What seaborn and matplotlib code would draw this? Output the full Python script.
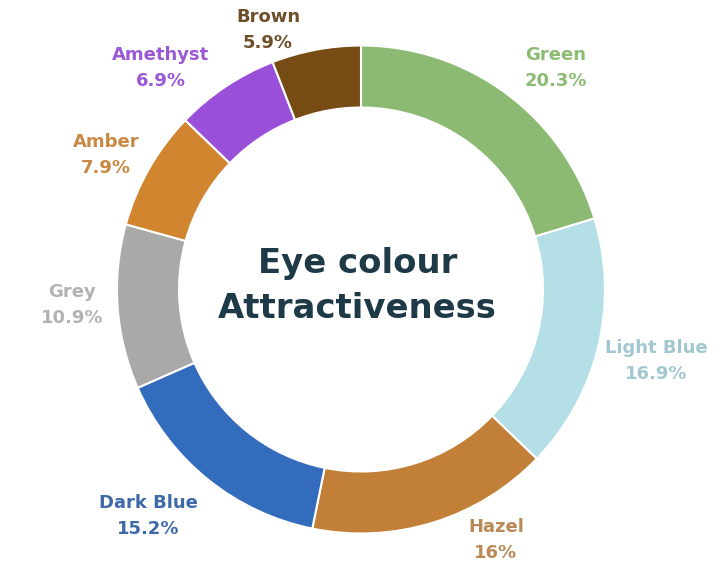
import matplotlib.pyplot as plt
import seaborn as sns

# eye colours, clockwise from 12 o'clock
colours = ["Green", "Light Blue", "Hazel", "Dark Blue", "Grey", "Amber", "Amethyst", "Brown"]
shares = [20.3, 16.9, 16.0, 15.2, 10.9, 7.9, 6.9, 5.9]

wedge_colors = ["#8dba72", "#b4dfe6", "#c27f37", "#336bbd", "#a9a9a9", "#d2852f", "#9a4fd9", "#774b14"]
label_colors = ["#8cbb74", "#a3c7d1", "#b98a57", "#3d69a6", "#b2b2b2", "#c98843", "#9a58d6", "#6d5028"]

# label centres in pixels (origin top-left)
label_xy = [(556, 68), (656, 361), (496, 540), (148, 516), (72, 305), (106, 155), (161, 68), (268, 30)]

sns.set_theme(style="white")
plt.rcParams["font.family"] = ["DejaVu Sans"]

W, H = 720, 574
fig = plt.figure(figsize=(7.2, 5.74), dpi=100)
ax = fig.add_axes([0, 0, 1, 1])

# y axis runs downwards, so start at -90 and go "counterclockwise" to get clockwise from the top
ax.pie(shares, colors=wedge_colors, center=(361, 289.5), radius=244,
       startangle=-90, counterclock=True,
       wedgeprops=dict(width=62, edgecolor="white", linewidth=1.5))

ax.set_xlim(0, W)
ax.set_ylim(H, 0)
ax.set_aspect("equal")
ax.axis("off")

for name, val, col, (x, y) in zip(colours, shares, label_colors, label_xy):
    ax.text(x, y, f"{name}\n{val:g}%", ha="center", va="center", color=col,
            fontsize=13, fontweight="bold", linespacing=1.55)

ax.text(357.5, 286, "Eye colour\nAttractiveness", ha="center", va="center",
        color="#1e3a47", fontsize=24.4, fontweight="bold", linespacing=1.45)

fig.savefig("out.png", dpi=100, facecolor="white")
